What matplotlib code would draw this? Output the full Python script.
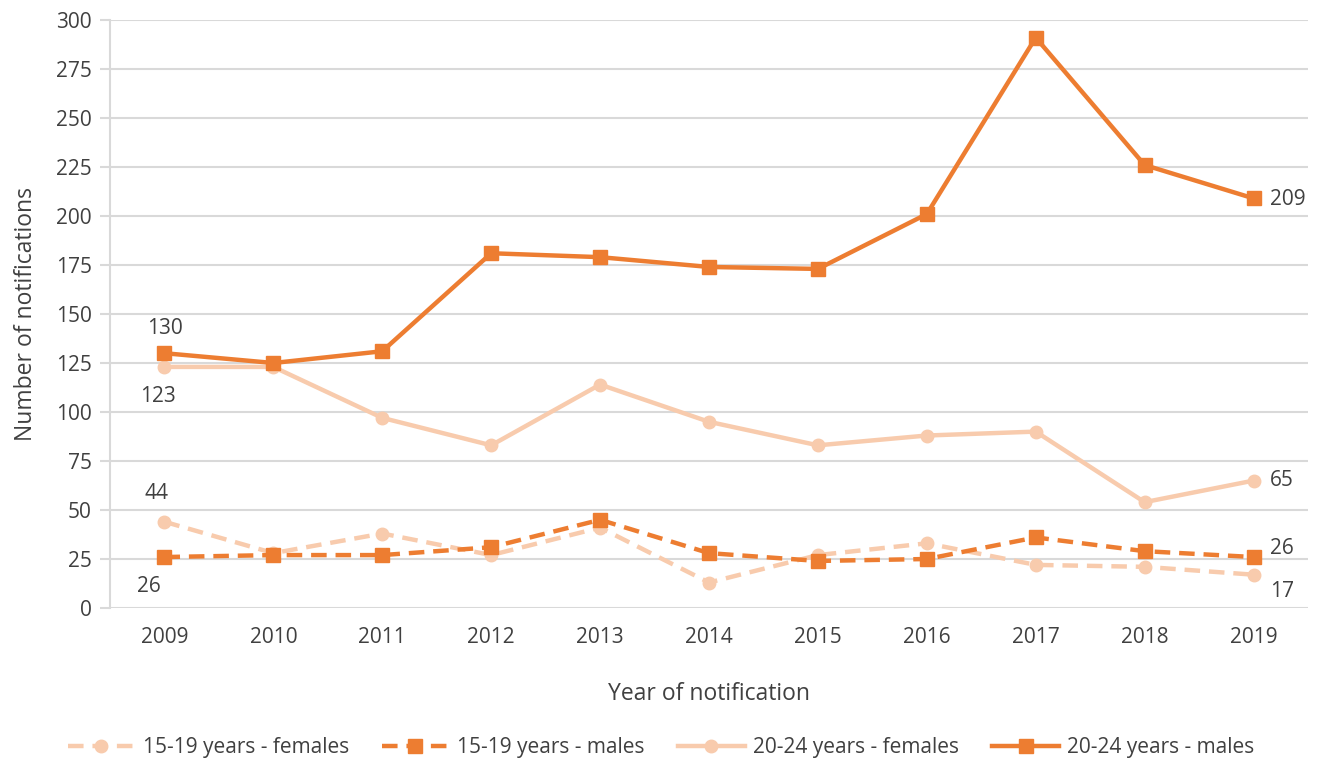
import matplotlib
matplotlib.use("Agg")
import matplotlib.pyplot as plt

plt.rcParams['font.family'] = ['Open Sans', 'DejaVu Sans']

years = ['2009', '2010', '2011', '2012', '2013', '2014', '2015', '2016', '2017', '2018', '2019']
f1519 = [44, 28, 38, 27, 41, 13, 27, 33, 22, 21, 17]
m1519 = [26, 27, 27, 31, 45, 28, 24, 25, 36, 29, 26]
f2024 = [123, 123, 97, 83, 114, 95, 83, 88, 90, 54, 65]
m2024 = [130, 125, 131, 181, 179, 174, 173, 201, 291, 226, 209]
yticks = [0, 25, 50, 75, 100, 125, 150, 175, 200, 225, 250, 275, 300]

dark = '#ED7D31'
light = '#F8CBAD'
txt = '#404040'

fig = plt.figure(figsize=(13.22, 7.6), dpi=100)
ax = fig.add_axes([110/1322, 152/760, 1198/1322, 588/760])
x = list(range(len(years)))

ax.plot(x, f1519, color=light, lw=3.2, ls=(0, (3.5, 2)), marker='o', ms=9, label='15-19 years - females', zorder=3)
ax.plot(x, m1519, color=dark, lw=3.2, ls=(0, (3.5, 2)), marker='s', ms=10, label='15-19 years - males', zorder=4)
ax.plot(x, f2024, color=light, lw=3.2, marker='o', ms=9, label='20-24 years - females', zorder=3)
ax.plot(x, m2024, color=dark, lw=3.2, marker='s', ms=10, label='20-24 years - males', zorder=4)

ax.set_xlim(-0.5, len(years) - 0.5)
ax.set_ylim(0, 300)
ax.set_yticks(yticks)
ax.set_xticks(x)
ax.set_xticklabels(years)
ax.grid(axis='y', color='#D9D9D9', lw=1.5)
ax.set_axisbelow(True)
for s in ['top', 'right', 'bottom']:
    ax.spines[s].set_visible(False)
ax.spines['left'].set_color('#D9D9D9')
ax.spines['left'].set_linewidth(1.5)
ax.tick_params(axis='y', length=7, color='#D9D9D9', width=1.5, labelsize=15, labelcolor=txt, pad=6)
ax.tick_params(axis='x', length=0, labelsize=15, labelcolor=txt, pad=14)

ax.set_ylabel('Number of notifications', fontsize=16.5, color=txt, labelpad=13)
ax.set_xlabel('Year of notification', fontsize=16.5, color=txt, labelpad=24)

fs = 15
ax.annotate(str(m2024[0]), (0, m2024[0]), xytext=(0, 10), textcoords='offset points', ha='center', va='bottom', fontsize=fs, color=txt)
ax.annotate(str(f2024[0]), (0, f2024[0]), xytext=(-5, -14), textcoords='offset points', ha='center', va='top', fontsize=fs, color=txt)
ax.annotate(str(f1519[0]), (0, f1519[0]), xytext=(-6, 13), textcoords='offset points', ha='center', va='bottom', fontsize=fs, color=txt)
ax.annotate(str(m1519[0]), (0, m1519[0]), xytext=(-11, -14), textcoords='offset points', ha='center', va='top', fontsize=fs, color=txt)
n = len(years) - 1
ax.annotate(str(m2024[n]), (n, m2024[n]), xytext=(12, -1), textcoords='offset points', ha='left', va='center', fontsize=fs, color=txt)
ax.annotate(str(f2024[n]), (n, f2024[n]), xytext=(12, 0), textcoords='offset points', ha='left', va='center', fontsize=fs, color=txt)
ax.annotate(str(m1519[n]), (n, m1519[n]), xytext=(12, 6), textcoords='offset points', ha='left', va='center', fontsize=fs, color=txt)
ax.annotate(str(f1519[n]), (n, f1519[n]), xytext=(12, -12), textcoords='offset points', ha='left', va='center', fontsize=fs, color=txt)

leg = fig.legend(loc='center', bbox_to_anchor=(0.5, 12/760), ncol=4, frameon=False,
                 fontsize=15, handlelength=3.2, columnspacing=1.6, handletextpad=0.4)
for t in leg.get_texts():
    t.set_color(txt)

fig.savefig('out.png', dpi=100)
